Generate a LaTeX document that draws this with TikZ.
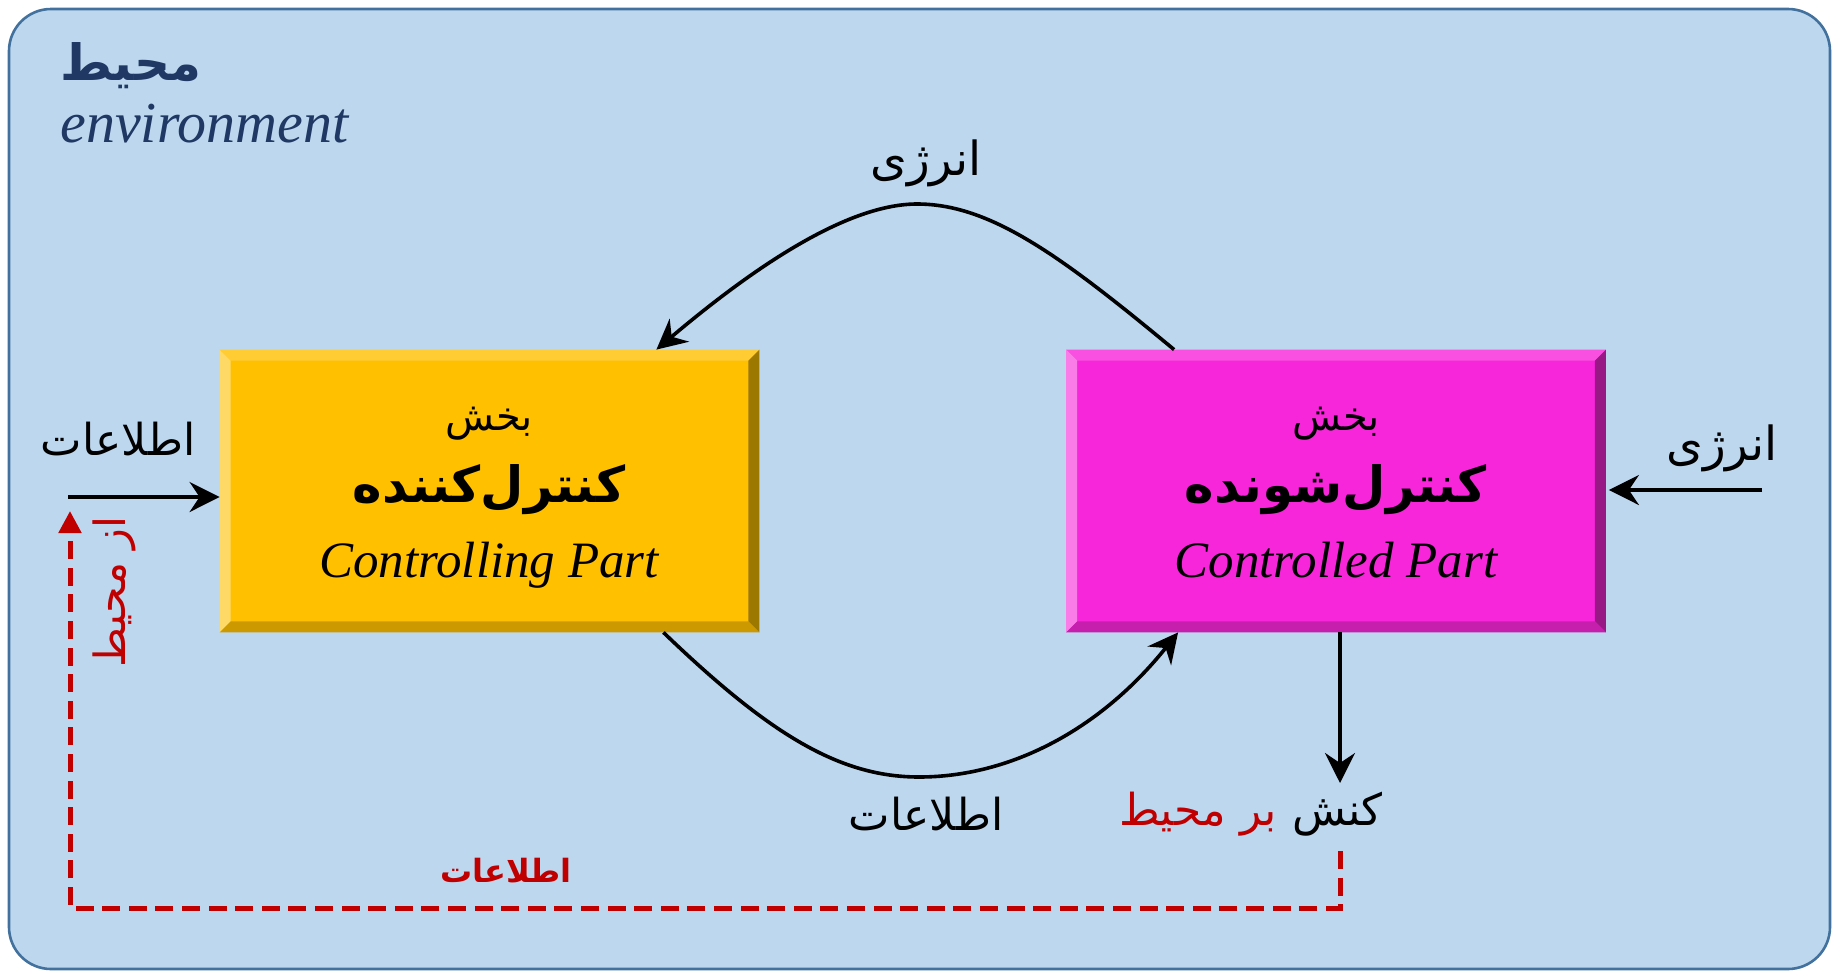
\documentclass[tikz,border=0pt]{standalone}
\usepackage{fontspec}
\setmainfont{Liberation Serif}
\newfontfamily\fa[Script=Arabic]{DejaVu Sans}
\usetikzlibrary{arrows.meta,calc}
\TeXXeTstate=1

\definecolor{envfill}{HTML}{BDD7EE}
\definecolor{envline}{HTML}{41719C}
\definecolor{titleblue}{HTML}{1F3864}
\definecolor{redline}{HTML}{C00000}
% controlling part (yellow) and its bevel shades
\definecolor{ymain}{HTML}{FFC000}
\definecolor{ytop}{HTML}{FFCC33}
\definecolor{yleft}{HTML}{FFD966}
\definecolor{yright}{HTML}{9C7800}
\definecolor{ybottom}{HTML}{CC9A00}
% controlled part (magenta) and its bevel shades
\definecolor{mmain}{HTML}{F826DA}
\definecolor{mtop}{HTML}{FA50E1}
\definecolor{mleft}{HTML}{FA7CE9}
\definecolor{mright}{HTML}{981886}
\definecolor{mbottom}{HTML}{C61FAE}

\newcommand\rtl[1]{\fa\beginR #1\endR}
\def\bv{11}
% bevelled edges of a box node: #1 name, #2 top, #3 left, #4 right, #5 bottom
\newcommand\drawbevels[5]{%
  \fill[#2] (#1.north west) -- (#1.north east) -- ([shift={(-\bv,\bv)}]#1.north east) -- ([shift={(\bv,\bv)}]#1.north west) -- cycle;
  \fill[#3] (#1.north west) -- (#1.south west) -- ([shift={(\bv,-\bv)}]#1.south west) -- ([shift={(\bv,\bv)}]#1.north west) -- cycle;
  \fill[#4] (#1.north east) -- (#1.south east) -- ([shift={(-\bv,-\bv)}]#1.south east) -- ([shift={(-\bv,\bv)}]#1.north east) -- cycle;
  \fill[#5] (#1.south west) -- (#1.south east) -- ([shift={(-\bv,-\bv)}]#1.south east) -- ([shift={(\bv,-\bv)}]#1.south west) -- cycle;
}

\tikzset{
  part/.style={rectangle, inner sep=0pt, minimum width=269.5pt, minimum height=141pt},
  arr/.style={line width=1.8pt, -{Stealth[length=15pt, width=15pt, inset=5pt]}},
  reddash/.style={redline, line width=2.5pt, dash pattern=on 9pt off 4.3pt,
    -{Triangle[length=11pt, width=11pt]}},
  lbl/.style={inner sep=0pt, font=\fontsize{22}{24}\selectfont},
  sub/.style={inner sep=0pt, font=\fontsize{20}{22}\selectfont},
  head/.style={inner sep=0pt, font=\fontsize{25}{28}\selectfont\bfseries},
  eng/.style={inner sep=0pt, font=\fontsize{25.5}{28}\selectfont\itshape},
}

\begin{document}
\begin{tikzpicture}[x=0.5pt, y=-0.5pt]
  \useasboundingbox (0,0) rectangle (1833,976);

  % environment
  \draw[envline, fill=envfill, line width=1.3pt, rounded corners=21pt] (9,9) rectangle (1830,969);
  \node[inner sep=0pt, anchor=base west, text=titleblue, font=\fontsize{25}{27}\selectfont\bfseries] (envfa) at (60,80) {\rtl{محیط}};
  \node[inner sep=0pt, anchor=base west, text=titleblue, font=\fontsize{29}{31}\selectfont\itshape] (enven) at (60,142) {environment};

  % controlling part
  \node[part, fill=ymain] (ctrl) at (489.5,491) {};
  \drawbevels{ctrl}{ytop}{yleft}{yright}{ybottom}
  \node[sub, anchor=base] (ctrlA) at (489,430) {\rtl{بخش}};
  \node[head, anchor=base] (ctrlB) at (489,502) {\rtl{کنترل^^^^200cکننده}};
  \node[eng, anchor=base] (ctrlC) at (489,577) {Controlling Part};

  % controlled part
  \node[part, fill=mmain] (cted) at (1336,491) {};
  \drawbevels{cted}{mtop}{mleft}{mright}{mbottom}
  \node[sub, anchor=base] (ctedA) at (1336,430) {\rtl{بخش}};
  \node[head, anchor=base] (ctedB) at (1336,502) {\rtl{کنترل^^^^200cشونده}};
  \node[eng, anchor=base] (ctedC) at (1336,577) {Controlled Part};

  % energy from the controlled part to the controlling part
  \coordinate (topS) at ([xshift=54pt]cted.north west);
  \coordinate (topE) at ([xshift=-51.5pt]ctrl.north east);
  \coordinate (topP) at (917,204);
  \draw[arr] (topS) .. controls (1060,255) and (990,204) .. (topP)
                    .. controls (850,204) and (760,262) .. (topE);
  \node[lbl, anchor=base, font=\fontsize{23.5}{25}\selectfont] (energyT) at (926,175) {\rtl{انرژی}};

  % information from the controlling part to the controlled part
  \coordinate (botS) at ([xshift=-48pt]ctrl.south east);
  \coordinate (botE) at ([xshift=56pt]cted.south west);
  \coordinate (botP) at (919,777);
  \draw[arr] (botS) .. controls (770,735) and (840,777) .. (botP)
                    .. controls (1010,777) and (1100,730) .. (botE);
  \node[lbl, anchor=base] (infoB) at (926,830) {\rtl{اطلاعات}};

  % inputs
  \coordinate (inL) at (68,497);
  \draw[arr] (inL) -- (inL -| ctrl.west);
  \node[lbl, anchor=base] (infoL) at (118,455) {\rtl{اطلاعات}};
  \coordinate (inR) at (1762,490);
  \draw[arr] (inR) -- ([xshift=1.5pt]inR -| cted.east);
  \node[lbl, anchor=base, font=\fontsize{23.5}{25}\selectfont] (energyR) at (1722,460) {\rtl{انرژی}};

  % action on the environment
  \coordinate (actTip) at (1340,783);
  \draw[arr] (actTip |- cted.south) -- (actTip);
  \node[lbl, anchor=base east] (act) at (1383,825) {\rtl{کنش}};
  \node[lbl, anchor=base east, text=redline] (actEnv) at (1277,825) {\rtl{بر محیط}};

  % feedback from the environment
  \coordinate (fbS) at (1340,851);
  \coordinate (fbC) at (70,908);
  \coordinate (fbE) at (70,511);
  \draw[reddash] (fbS) |- (fbC) -- (fbE);
  \node[inner sep=0pt, anchor=base, text=redline, font=\fontsize{16}{18}\selectfont\bfseries] (infoR) at (506,882) {\rtl{اطلاعات}};
  \node[inner sep=0pt, text=redline, rotate=90, font=\fontsize{21.5}{23}\selectfont] (fromEnv) at (114,592) {\rtl{از محیط}};
\end{tikzpicture}
\end{document}
